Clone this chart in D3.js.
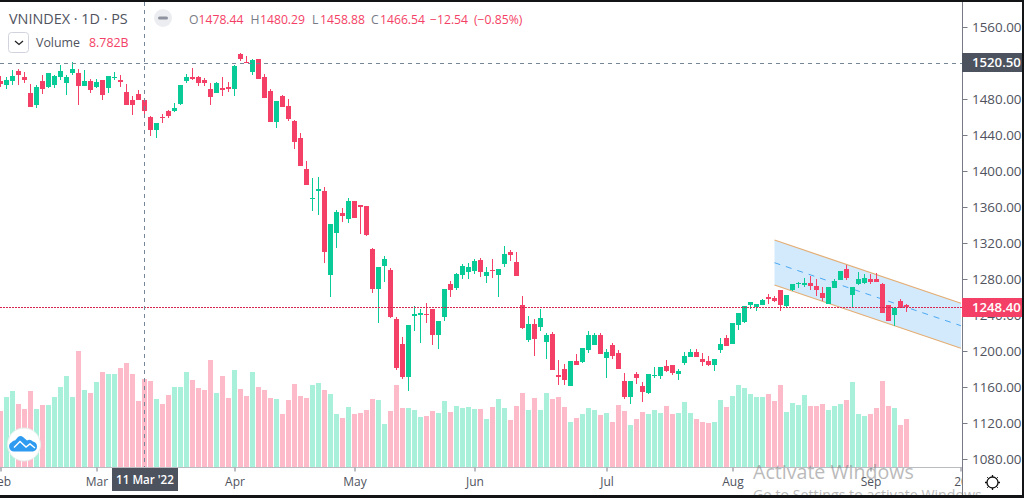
<!DOCTYPE html>
<html><head><meta charset="utf-8">
<style>html,body{margin:0;padding:0;background:#fff;overflow:hidden}svg{display:block}text{font-family:"Open Sans",sans-serif}</style>
<script src="https://cdn.jsdelivr.net/npm/d3@7"></script></head><body>
<script>
const opens=[1500,1495.6,1500,1511.1,1504.4,1486.7,1473.3,1500,1493.3,1495.6,
1504.4,1497.8,1508.9,1508.9,1494.4,1500,1493.3,1501.1,1492.2,1504.1,
1500.7,1487.8,1478.9,1485.6,1478.44,1460,1445.6,1460.4,1466.7,1466.7,
1474.4,1500,1504.4,1504.4,1501.1,1491.1,1486.7,1492.2,1493.3,1491.1,
1530,1521.5,1510,1524.4,1504.4,1488.9,1454.4,1483.3,1472.2,1455.6,
1436.7,1402.2,1369.2,1377.8,1377.8,1284.4,1331.1,1353.3,1346.6,1366.6,
1362.2,1361.1,1313.3,1268.9,1294.4,1290,1235.5,1207.8,1171.1,1238.9,
1240,1241.1,1246.6,1217.8,1237.8,1274.4,1270,1284.4,1287.8,1288.9,
1301.1,1283.3,1290,1284.4,1296.6,1310,1298.9,1251.1,1212.2,1230,
1226.6,1210,1218.9,1173.3,1180,1161.1,1188.8,1187.7,1201.1,1206.6,
1217.7,1192.2,1206.6,1197.7,1166.6,1148.8,1174.4,1161.1,1153.3,1172.6,
1172.2,1183.3,1184.4,1174.4,1186.6,1193.3,1198.8,1191.1,1188.8,1184.4,
1201.1,1214.4,1207.7,1228.8,1232.2,1251.1,1248.8,1251.1,1260,1258.8,
1267.7,1250,1267.7,1274,1273.3,1275.5,1272.2,1264.4,1252.2,1270,
1278.8,1291.1,1262.2,1274.4,1275.5,1280,1280,1274.4,1251.1,1240,
1255.5,1251.1];
const highs=[1505.6,1504.1,1512.2,1513,1510.4,1496.7,1495.6,1506.7,1508.9,1506.7,
1517.8,1506.7,1521.1,1513.3,1512.2,1502.2,1502.2,1501.1,1505.6,1510,
1506.7,1496.7,1483.3,1490,1480.29,1461.1,1453.3,1463.3,1467.8,1475.6,
1495.6,1507.8,1514.4,1505.6,1503.3,1497.8,1498.9,1504.4,1498.9,1517.8,
1531.1,1527.8,1524.4,1524.4,1507.8,1491.1,1477.8,1484.4,1480,1456.7,
1442.2,1411.1,1392.2,1393.3,1382.2,1341.1,1356.6,1358.9,1370,1366.6,
1362.2,1361.1,1314.4,1293.3,1305.5,1292.2,1237.8,1215.5,1228.9,1250,
1246.6,1253.3,1246.6,1233.3,1268.9,1277.8,1286.6,1296.6,1297.8,1302.2,
1303.3,1293.3,1302.2,1291.1,1316.6,1312.2,1310,1261.1,1238.9,1235.5,
1246.6,1220,1221.1,1190,1185.5,1188.8,1196.6,1203.3,1222.2,1220,
1220,1202.2,1208.8,1201.1,1175.5,1166.6,1176.6,1165.5,1174.4,1182.2,
1182.2,1190,1184.4,1180,1198.8,1202.2,1202.2,1197.7,1194.4,1191.1,
1214.4,1217.7,1231.1,1242.2,1250,1254.4,1252.2,1257.7,1263.3,1261.1,
1267.7,1262.2,1274.4,1276.6,1281.1,1283.3,1280,1271.1,1271.1,1280,
1288.8,1295.5,1271.1,1287.7,1285.5,1285.5,1286.6,1275.5,1251.1,1247.7,
1257.7,1252.2];
const lows=[1493,1491.1,1495.6,1495.6,1497.4,1471.1,1470,1485.6,1492.2,1492.2,
1501.1,1484.4,1506.7,1473.3,1494.4,1486.7,1492.2,1478.9,1486.7,1501.1,
1493.3,1473.3,1462.2,1478.9,1458.88,1438.9,1436.7,1453.3,1458.9,1465.6,
1473.3,1497.8,1501.1,1494.4,1494.4,1473.3,1486.7,1483.3,1487.8,1483.3,
1522.2,1519.6,1506.7,1502.2,1481.1,1454.4,1447.8,1471.1,1455.6,1424.4,
1405.5,1384.4,1355.5,1351.1,1297.8,1260,1314.4,1343.3,1342.2,1347.8,
1330,1327.8,1264.4,1231.1,1276.6,1236.6,1178.9,1168.9,1155.5,1222.2,
1208.9,1231.1,1206.6,1202.2,1233.3,1260,1267.8,1280,1280,1285.5,
1282.2,1275.5,1281.1,1260,1293.3,1300,1283.3,1224.4,1210,1194.4,
1222.2,1191.1,1178.9,1162.2,1162.2,1161.1,1184.4,1186.6,1197.7,1206.6,
1196.6,1170,1191.1,1180,1146.6,1141.1,1163.3,1143.3,1152.2,1170,
1168.8,1176.6,1173.3,1167.7,1184.4,1193.3,1193.3,1183.3,1183.3,1177.7,
1197.7,1205.5,1207.7,1223.3,1231.1,1246.6,1244.4,1251.1,1252.2,1254.4,
1244.4,1248.8,1266.6,1270,1271.1,1267.7,1261.1,1255.5,1252.2,1270,
1278.8,1278.8,1248.8,1273.3,1274.4,1274.4,1276.6,1242.2,1233.3,1227.7,
1247.7,1243.3];
const closes=[1496.7,1501.1,1505.6,1506.7,1501.1,1471.1,1493.3,1491.1,1508.9,1505.6,
1511.1,1504.4,1513.3,1494.4,1500,1490,1498.9,1484.4,1505.6,1504.8,
1499.3,1473.3,1473.3,1478.9,1466.54,1445.6,1453.3,1459.6,1461.1,1470,
1495.6,1504.4,1502.2,1497.8,1497.8,1482.2,1497.8,1490,1491.1,1516.7,
1524.4,1520.7,1523.3,1502.2,1481.1,1454.4,1477.8,1471.1,1457.8,1432.2,
1405.5,1384.4,1370,1380,1310,1341.1,1354.4,1350,1366.6,1347.8,
1360,1328.9,1268.9,1293.3,1302.2,1237.8,1181.1,1171.1,1228.9,1241.1,
1242.2,1240,1217.8,1233.3,1268.9,1267.8,1285.5,1294.4,1293.3,1300,
1287.8,1287.8,1289.2,1291.1,1307.8,1306.6,1283.3,1225.5,1230,1213.3,
1236.6,1217.8,1178.9,1171.1,1167.7,1188.8,1184.4,1203.3,1217.7,1217.7,
1196.6,1198.8,1194.4,1180,1148.8,1166.6,1170,1154.4,1174.4,1173.3,
1182.2,1177.7,1175.5,1177.7,1194.4,1198.8,1193.3,1187.7,1184.4,1191.1,
1207.7,1205.5,1231.1,1242.2,1250,1254.4,1252.2,1256.6,1257.7,1255.5,
1251.1,1262.2,1274.4,1275.1,1275.5,1272.2,1267.7,1258.8,1271.1,1277.7,
1288.8,1281.1,1271.1,1280,1281.1,1276.6,1276.6,1242.2,1233.3,1247.7,
1247.7,1248.4];
const volumes=[5.6,7.0,7.6,6.3,5.8,7.6,5.8,6.2,6.2,7.0,
8.0,9.1,7.0,11.6,7.7,7.4,8.5,9.5,9.3,9.3,
9.9,10.4,9.3,6.6,8.782,8.6,6.8,6.3,7.2,8.0,
8.0,9.5,8.7,7.9,7.7,10.7,7.4,9.1,6.9,9.7,
7.8,7.1,9.5,8.0,7.7,6.9,6.8,5.3,6.7,8.3,
7.1,6.9,8.2,8.4,7.7,7.3,5.3,4.9,6.0,5.3,
5.4,5.7,6.8,6.7,4.3,5.6,8.2,5.9,5.9,5.7,
5.0,5.1,5.6,5.4,6.6,5.5,6.1,5.9,6.0,5.8,
5.8,4.8,6.0,6.8,5.9,4.7,6.1,7.4,5.7,6.9,
5.7,7.4,6.8,7.0,6.0,4.5,4.9,5.3,5.9,5.7,
5.2,5.4,4.5,6.2,5.6,4.2,4.8,5.5,5.3,5.7,
5.4,6.1,5.3,5.4,6.5,5.4,4.8,4.5,4.4,4.5,
6.7,6.0,7.1,8.2,7.9,7.3,7.0,7.0,7.3,6.6,
8.2,5.5,6.4,6.2,7.2,6.1,6.1,6.3,5.7,6.1,
6.3,6.7,8.5,5.3,5.1,5.3,5.9,8.6,6.1,5.9,
4.2,4.8];
const priceTicks=[1080,1120,1160,1200,1240,1280,1320,1360,1400,1440,1480,1520,1560];
const dateTickIdx=[0,16,39,59,79,101,122,145,160];
const dateTickLabels=["Feb","Mar","Apr","May","Jun","Jul","Aug","Sep","20"];
const channelIdx=[129,160.07];
const channelTop=[1323.3,1253];
const channelMid=[1298.1,1228.1];
const channelBottom=[1273.3,1203];
const crossIdx=24, crossPrice=1520.5, lastPrice=1248.4;
const crossDate="11 Mar '22";

const W=1024,H=498,plotR=962,plotB=467;
const RED="#F43F66",GREEN="#08CB98",PINK="#FDBBCA",MINT="#A9F0DB",INK="#50535E",DARK="#4C525E",CROSS="#758696",AXIS="#787B86";
const x=d3.scaleLinear().domain([0,151]).range([0.5,906.5]);
const y=d3.scaleLinear().domain([1560,1080]).range([27,459]);
const yVol=d3.scaleLinear().domain([0,10]).range([plotB,plotB-100.2]);
const idx=d3.range(opens.length);
const svg=d3.select("body").append("svg").attr("width",W).attr("height",H);
svg.append("rect").attr("width",W).attr("height",H).attr("fill","#fff");
const defs=svg.append("defs");
defs.append("clipPath").attr("id","plot").append("rect").attr("width",plotR).attr("height",plotB);
defs.append("clipPath").attr("id","xa").append("rect").attr("width",plotR).attr("height",H);
const plot=svg.append("g").attr("clip-path","url(#plot)");
const up=i=>closes[i]>=opens[i];
// volume
plot.append("g").selectAll("rect").data(idx).join("rect")
 .attr("x",i=>x(i)-2.5).attr("width",5)
 .attr("y",i=>Math.round(yVol(volumes[i]))).attr("height",i=>plotB-Math.round(yVol(volumes[i])))
 .attr("fill",i=>up(i)?MINT:PINK);
// channel
const lineOf=a=>d3.line().x((d,i)=>x(channelIdx[i])).y(d=>y(d))(a);
const area=d3.area().x((d,i)=>x(channelIdx[i])).y0((d,i)=>y(channelBottom[i])).y1((d,i)=>y(channelTop[i]));
plot.append("path").attr("d",area(channelTop)).attr("fill","#2196F3").attr("opacity",0.2);
plot.append("path").attr("d",lineOf(channelTop)).attr("fill","none").attr("stroke","#E3AE75").attr("stroke-width",1.2);
plot.append("path").attr("d",lineOf(channelBottom)).attr("fill","none").attr("stroke","#E3AE75").attr("stroke-width",1.2);
plot.append("path").attr("d",lineOf(channelMid)).attr("fill","none").attr("stroke","#4BA8F2").attr("stroke-width",1).attr("stroke-dasharray","6 6");
// candles
const c=plot.append("g");
c.selectAll("rect.w").data(idx).join("rect").attr("class","w")
 .attr("x",i=>x(i)-0.5).attr("width",1)
 .attr("y",i=>Math.round(y(highs[i]))).attr("height",i=>Math.max(1,Math.round(y(lows[i]))-Math.round(y(highs[i]))))
 .attr("fill",i=>up(i)?GREEN:RED);
c.selectAll("rect.b").data(idx).join("rect").attr("class","b")
 .attr("x",i=>x(i)-2.5).attr("width",5)
 .attr("y",i=>Math.round(y(Math.max(opens[i],closes[i]))))
 .attr("height",i=>Math.max(1,Math.round(y(Math.min(opens[i],closes[i])))-Math.round(y(Math.max(opens[i],closes[i])))))
 .attr("fill",i=>up(i)?GREEN:RED);
// last price line and crosshair
const ly=Math.round(y(lastPrice))+0.5, cy=Math.round(y(crossPrice));
plot.append("line").attr("x1",0).attr("x2",plotR).attr("y1",ly).attr("y2",ly).attr("stroke","#D92650").attr("stroke-dasharray","2 1");
plot.append("line").attr("x1",0).attr("x2",plotR).attr("y1",cy+.5).attr("y2",cy+.5).attr("stroke",CROSS).attr("stroke-dasharray","4 4");
plot.append("line").attr("x1",x(crossIdx)).attr("x2",x(crossIdx)).attr("y1",2).attr("y2",plotB).attr("stroke",CROSS).attr("stroke-dasharray","4 4");
// axes
const ax=svg.append("g").attr("transform",`translate(${plotR+0.5},0)`).call(d3.axisRight(y).tickValues(priceTicks).tickFormat(d3.format(".2f")).tickSize(5).tickPadding(4.5));
ax.select(".domain").attr("d",`M0,0V${H}`).attr("stroke",AXIS);
ax.selectAll(".tick line").attr("stroke",AXIS);
ax.selectAll(".tick text").attr("fill",INK).attr("font-size",13.4).attr("font-family",'"Open Sans",sans-serif');
const bx=svg.append("g").attr("transform",`translate(0,${plotB+0.5})`).attr("clip-path","url(#xa)").call(d3.axisBottom(x).tickValues(dateTickIdx).tickFormat((d,i)=>dateTickLabels[i]).tickSize(4).tickPadding(6));
bx.select(".domain").attr("d",`M0,0H${plotR}`).attr("stroke",AXIS);
bx.selectAll(".tick line").attr("stroke",AXIS);
bx.selectAll(".tick text").attr("fill",INK).attr("font-size",12).attr("font-family",'"Open Sans",sans-serif');
// price and date tags
function tag(px,py,w,h,fill,txt,tx,anchor,fs,fw){
 svg.append("rect").attr("x",px).attr("y",py).attr("width",w).attr("height",h).attr("fill",fill);
 svg.append("text").attr("x",tx).attr("y",py+h/2+4.6).attr("text-anchor",anchor).attr("fill","#fff").attr("font-size",fs).attr("font-weight",fw).text(txt);
}
tag(plotR,53,60,19,DARK,d3.format(".2f")(crossPrice),972,"start",13.2,600);
tag(plotR,298,60,19,RED,d3.format(".2f")(lastPrice),972,"start",13.2,600);
tag(112,plotB+1,66,23,DARK,crossDate,145,"middle",11.6,600);
// header
const hd=svg.append("g");
hd.append("text").attr("x",9).attr("y",24).attr("font-size",14.4).attr("fill",INK).text("VNINDEX · 1D · PS");
hd.append("circle").attr("cx",163).attr("cy",18).attr("r",9).attr("fill","#ECEDF1");
hd.append("rect").attr("x",158).attr("y",16.5).attr("width",10).attr("height",3).attr("rx",1.5).attr("fill","#8F93A0");
const hdrItems=[["O",189,"#787B86"],["1478.44",198.5,RED],["H",250.5,"#787B86"],["1480.29",260,RED],["L",312,"#787B86"],["1458.88",320,RED],["C",371,"#787B86"],["1466.54",380,RED],["−12.54",430,RED],["(−0.85%)",474,RED]];
hd.selectAll("text.o").data(hdrItems).join("text").attr("class","o").attr("x",d=>d[1]).attr("y",24).attr("font-size",12.2).attr("fill",d=>d[2]).text(d=>d[0]);
hd.append("rect").attr("x",8.5).attr("y",32.5).attr("width",20).attr("height",20).attr("rx",3).attr("fill","#fff").attr("stroke","#D1D4DC");
hd.append("path").attr("d","M15,41l4,3.5l4,-3.5").attr("fill","none").attr("stroke","#222").attr("stroke-width",1.3);
hd.append("text").attr("x",36).attr("y",47).attr("font-size",12.4).attr("fill",INK).text("Volume");
hd.append("text").attr("x",89).attr("y",47).attr("font-size",12.4).attr("fill",RED).text("8.782B");
// logo
const lg=svg.append("g").attr("transform","translate(24,444.5)");
lg.append("circle").attr("r",16.5).attr("fill","#fff").attr("stroke","#E6F0EC");
lg.append("path").attr("d","M-10,7a5,5 0 0 1 -2,-9.5q1,-2 3,-1.5l3,-3.5q2.5,-2 5,0l4,3.5q3,-2 6,1q4,1 4,5a5,5 0 0 1 -4,5z").attr("fill","#2F9BF0");
lg.append("path").attr("d","M-10,3l6,-6l6,5.5l4,-3l5,4").attr("fill","none").attr("stroke","#fff").attr("stroke-width",1.4);
// gear
const g=svg.append("g").attr("transform","translate(992.5,482.5)").attr("stroke","#111").attr("fill","none");
g.append("circle").attr("r",5.5).attr("stroke-width",1.3);
d3.range(8).forEach(k=>{const a=k*Math.PI/4;g.append("line").attr("x1",Math.cos(a)*5.5).attr("y1",Math.sin(a)*5.5).attr("x2",Math.cos(a)*7.5).attr("y2",Math.sin(a)*7.5).attr("stroke-width",k%2?1:1.3);});
// watermark
svg.append("text").attr("x",753).attr("y",479).attr("font-size",19.6).attr("fill","#777").attr("opacity",0.5).text("Activate Windows");
svg.append("text").attr("x",753).attr("y",500).attr("font-size",14.2).attr("fill","#777").attr("opacity",0.5).text("Go to Settings to activate Windows.");
// window edges
const frame="#131416";
svg.append("rect").attr("width",W).attr("height",2).attr("fill",frame);
svg.append("rect").attr("y",495).attr("width",W).attr("height",3).attr("fill",frame);
svg.append("rect").attr("x",1022).attr("width",2).attr("height",H).attr("fill",frame);
</script></body></html>
